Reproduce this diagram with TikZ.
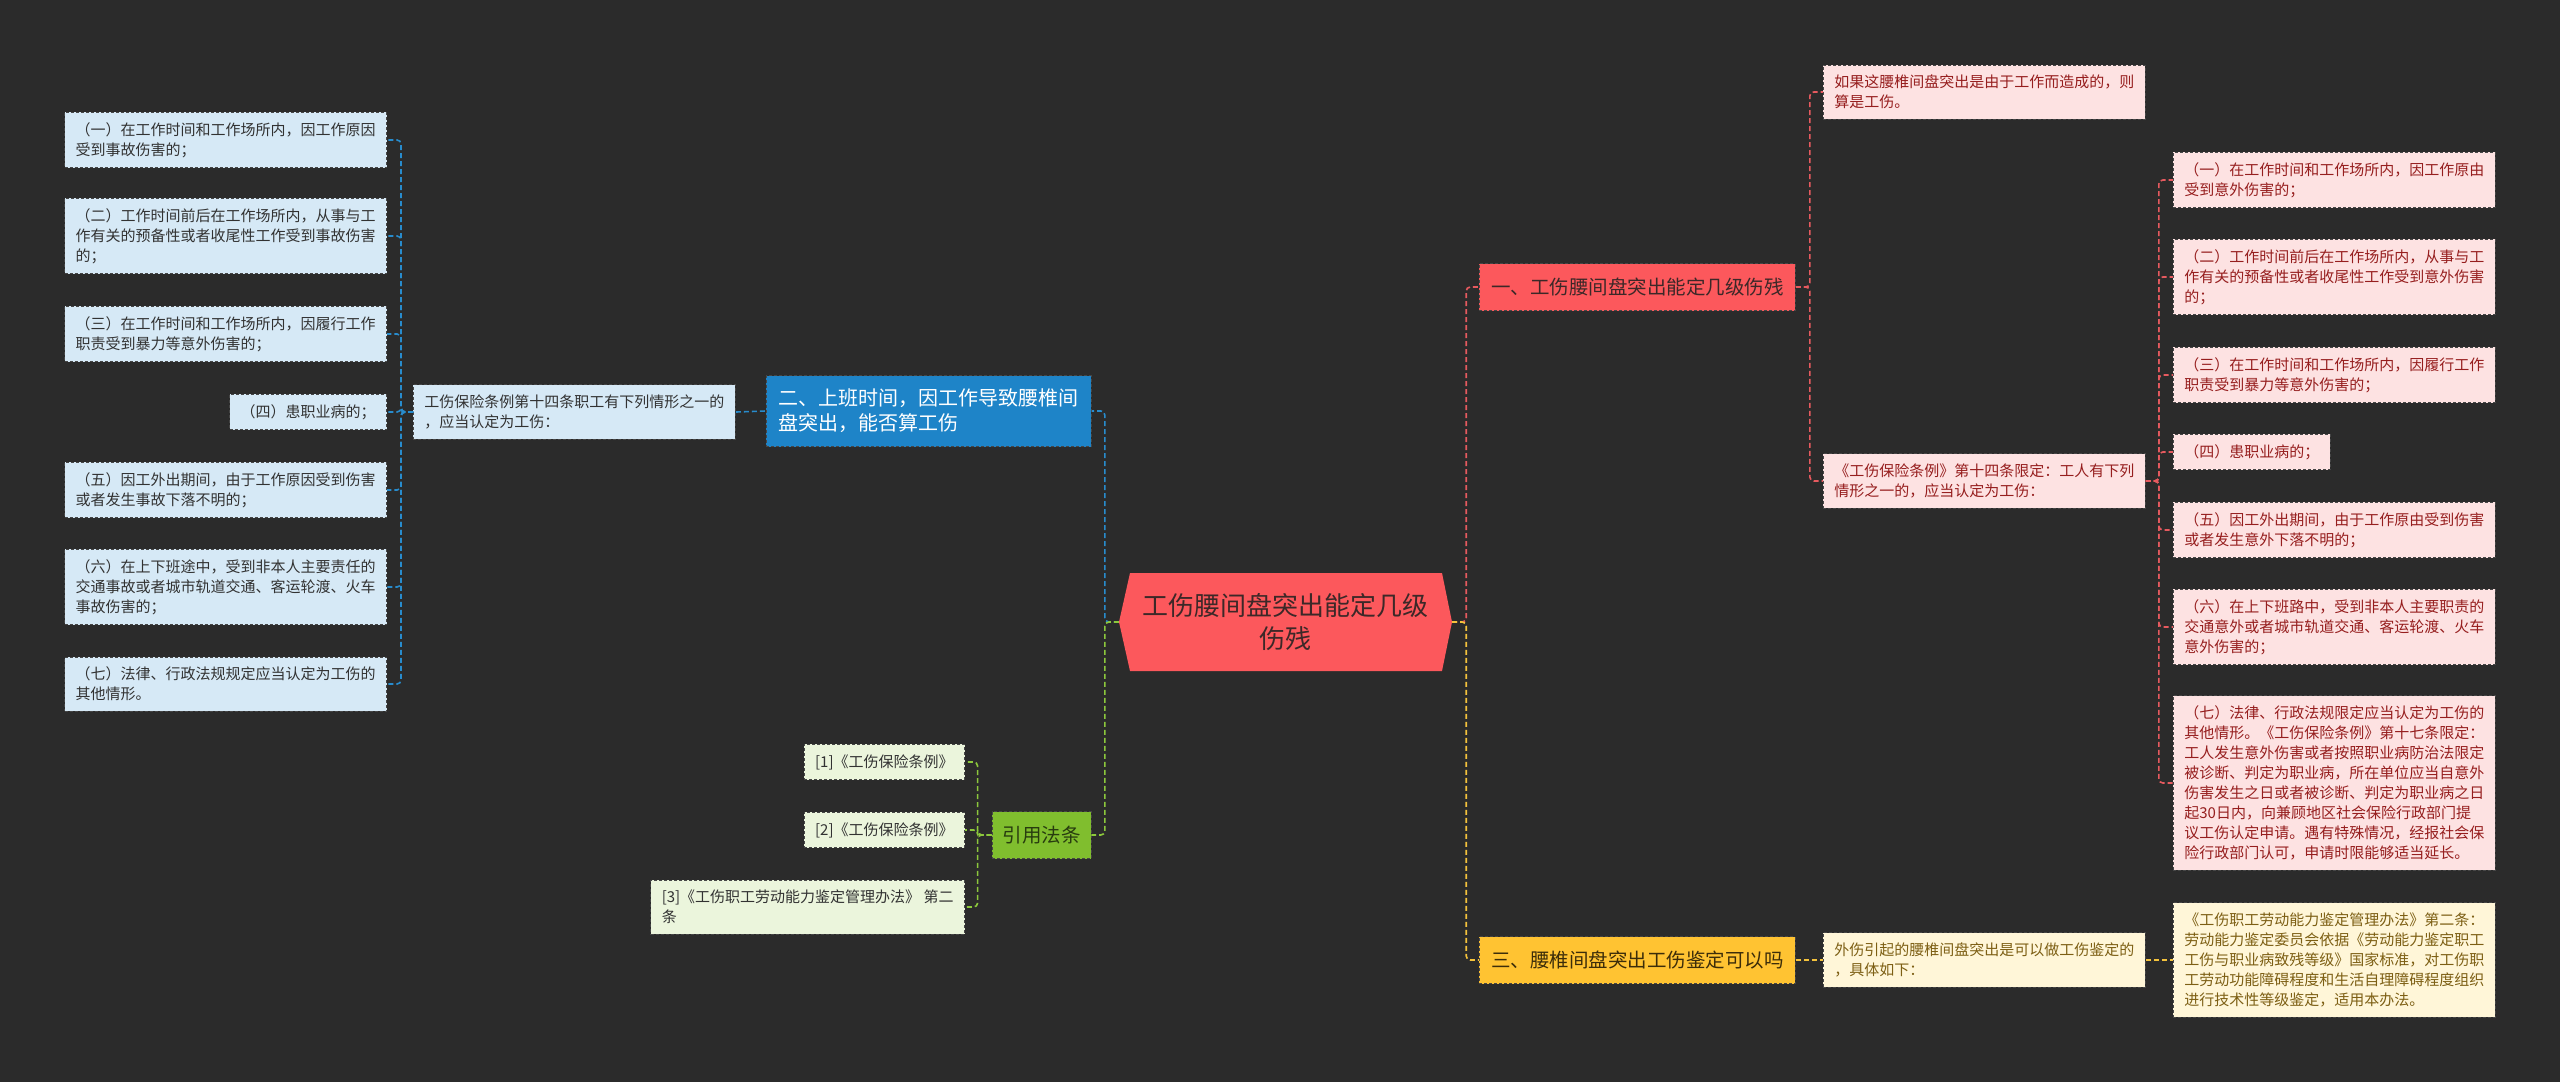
\documentclass[tikz,border=0pt]{standalone}
\usepackage{fontspec}
\setmainfont{Noto Sans CJK SC}
\definecolor{bg}{RGB}{43,43,43}
\definecolor{boxedge}{RGB}{70,70,70}
\definecolor{bluelt}{RGB}{214,233,246}
\definecolor{bluetx}{RGB}{50,50,50}
\definecolor{bluemain}{RGB}{30,132,200}
\definecolor{bluec}{RGB}{40,140,205}
\definecolor{redmain}{RGB}{252,88,92}
\definecolor{redtx}{RGB}{60,40,40}
\definecolor{pinklt}{RGB}{253,226,226}
\definecolor{pinktx}{RGB}{150,30,30}
\definecolor{redc}{RGB}{230,90,95}
\definecolor{yelmain}{RGB}{255,195,50}
\definecolor{yeltx}{RGB}{60,45,10}
\definecolor{yellt}{RGB}{255,246,216}
\definecolor{yelchtx}{RGB}{125,95,20}
\definecolor{yelc}{RGB}{245,195,60}
\definecolor{grnmain}{RGB}{128,190,46}
\definecolor{grntx}{RGB}{40,60,15}
\definecolor{grnlt}{RGB}{235,245,220}
\definecolor{grnc}{RGB}{140,200,60}
\begin{document}
\begin{tikzpicture}[x=1pt,y=-1pt,
  box/.style={draw=boxedge, dash pattern=on 3pt off 2pt, line width=0.8pt,
    inner xsep=11pt, inner ysep=10pt, align=left, font=\fontsize{15}{20}\selectfont},
  bchild/.style={box, fill=bluelt, text=bluetx},
  rchild/.style={box, fill=pinklt, text=pinktx},
  ychild/.style={box, fill=yellt, text=yelchtx},
  gchild/.style={box, fill=grnlt, text=bluetx},
  mainbox/.style={draw=boxedge, dash pattern=on 3pt off 2pt, line width=0.8pt,
    inner sep=0pt, align=center, font=\fontsize{19.5}{24}\selectfont,
    minimum height=47pt},
  conn/.style={line width=1.6pt, dash pattern=on 5pt off 3pt, rounded corners=4pt}
]
\useasboundingbox (0,0) rectangle (2560,1082);
\fill[bg] (0,0) rectangle (2560,1082);

% central hexagon
\fill[redmain] (1119,622) -- (1130,573) -- (1442,573) -- (1452,622) -- (1442,671) -- (1130,671) -- cycle;
\node[minimum width=333pt, minimum height=99pt, inner sep=0pt, align=center,
  text=redtx, font=\fontsize{26}{33}\selectfont] (ctr) at (1285.5,622)
  {工伤腰间盘突出能定几级\\伤残};

% left side
\node[bchild, anchor=east] (l1) at (387,140) {（一）在工作时间和工作场所内，因工作原因\\受到事故伤害的；};
\node[bchild, anchor=east] (l2) at (387,236) {（二）工作时间前后在工作场所内，从事与工\\作有关的预备性或者收尾性工作受到事故伤害\\的；};
\node[bchild, anchor=east] (l3) at (387,334) {（三）在工作时间和工作场所内，因履行工作\\职责受到暴力等意外伤害的；};
\node[bchild, anchor=east] (l4) at (387,412) {（四）患职业病的；};
\node[bchild, anchor=east] (l5) at (387,490) {（五）因工外出期间，由于工作原因受到伤害\\或者发生事故下落不明的；};
\node[bchild, anchor=east] (l6) at (387,587) {（六）在上下班途中，受到非本人主要责任的\\交通事故或者城市轨道交通、客运轮渡、火车\\事故伤害的；};
\node[bchild, anchor=east] (l7) at (387,684) {（七）法律、行政法规规定应当认定为工伤的\\其他情形。};
\node[bchild, anchor=west] (lm) at (413,412) {工伤保险条例第十四条职工有下列情形之一的\\，应当认定为工伤：};
\node[mainbox, fill=bluemain, text=white, anchor=west, minimum width=325pt, minimum height=71pt,
  align=left, font=\fontsize{20}{25}\selectfont] (bm) at (766,411)
  {二、上班时间，因工作导致腰椎间\\盘突出，能否算工伤};

% green
\node[mainbox, fill=grnmain, text=grntx, minimum width=99pt] (yf) at (1041.5,835) {引用法条};
\node[gchild, anchor=east] (g1) at (965,762) {[1]《工伤保险条例》};
\node[gchild, anchor=east] (g2) at (965,830) {[2]《工伤保险条例》};
\node[gchild, anchor=east] (g3) at (965,907) {[3]《工伤职工劳动能力鉴定管理办法》 第二\\条};

% right red
\node[mainbox, fill=redmain, text=redtx, anchor=west, minimum width=316pt] (r0) at (1479,287) {一、工伤腰间盘突出能定几级伤残};
\node[rchild, anchor=west] (rt) at (1823,92) {如果这腰椎间盘突出是由于工作而造成的，则\\算是工伤。};
\node[rchild, anchor=west] (rm) at (1823,481) {《工伤保险条例》第十四条限定：工人有下列\\情形之一的，应当认定为工伤：};
\node[rchild, anchor=west] (r1) at (2173,180) {（一）在工作时间和工作场所内，因工作原由\\受到意外伤害的；};
\node[rchild, anchor=west] (r2) at (2173,277) {（二）工作时间前后在工作场所内，从事与工\\作有关的预备性或者收尾性工作受到意外伤害\\的；};
\node[rchild, anchor=west] (r3) at (2173,375) {（三）在工作时间和工作场所内，因履行工作\\职责受到暴力等意外伤害的；};
\node[rchild, anchor=west] (r4) at (2173,452) {（四）患职业病的；};
\node[rchild, anchor=west] (r5) at (2173,530) {（五）因工外出期间，由于工作原由受到伤害\\或者发生意外下落不明的；};
\node[rchild, anchor=west] (r6) at (2173,627) {（六）在上下班路中，受到非本人主要职责的\\交通意外或者城市轨道交通、客运轮渡、火车\\意外伤害的；};
\node[rchild, anchor=west] (r7) at (2173,783) {（七）法律、行政法规限定应当认定为工伤的\\其他情形。《工伤保险条例》第十七条限定：\\工人发生意外伤害或者按照职业病防治法限定\\被诊断、判定为职业病，所在单位应当自意外\\伤害发生之日或者被诊断、判定为职业病之日\\起30日内，向兼顾地区社会保险行政部门提\\议工伤认定申请。遇有特殊情况，经报社会保\\险行政部门认可，申请时限能够适当延长。};

% right yellow
\node[mainbox, fill=yelmain, text=yeltx, anchor=west, minimum width=316pt] (y0) at (1479,960) {三、腰椎间盘突出工伤鉴定可以吗};
\node[ychild, anchor=west] (y1) at (1823,960) {外伤引起的腰椎间盘突出是可以做工伤鉴定的\\，具体如下：};
\node[ychild, anchor=west] (y2) at (2173,960) {《工伤职工劳动能力鉴定管理办法》第二条：\\劳动能力鉴定委员会依据《劳动能力鉴定职工\\工伤与职业病致残等级》国家标准，对工伤职\\工劳动功能障碍程度和生活自理障碍程度组织\\进行技术性等级鉴定，适用本办法。};

% connectors blue
\foreach \c in {l1,l2,l3,l4,l5,l6,l7}
  \draw[conn, bluec] (lm.west) -- ++(-12,0) |- (\c.east);
\draw[conn, bluec] (lm.east) -- (bm.west);
\draw[conn, bluec] (ctr.west) -- ++(-14,0) |- (bm.east);
% green
\draw[conn, grnc] (ctr.west) -- ++(-14,0) |- (yf.east);
\foreach \c in {g1,g2,g3}
  \draw[conn, grnc] (yf.west) -- ++(-14,0) |- (\c.east);
% red
\draw[conn, redc] (ctr.east) -- ++(14,0) |- (r0.west);
\foreach \c in {rt,rm}
  \draw[conn, redc] (r0.east) -- ++(14,0) |- (\c.west);
\foreach \c in {r1,r2,r3,r4,r5,r6,r7}
  \draw[conn, redc] (rm.east) -- ++(13,0) |- (\c.west);
% yellow
\draw[conn, yelc] (ctr.east) -- ++(14,0) |- (y0.west);
\draw[conn, yelc] (y0.east) -- (y1.west);
\draw[conn, yelc] (y1.east) -- (y2.west);
\end{tikzpicture}
\end{document}
